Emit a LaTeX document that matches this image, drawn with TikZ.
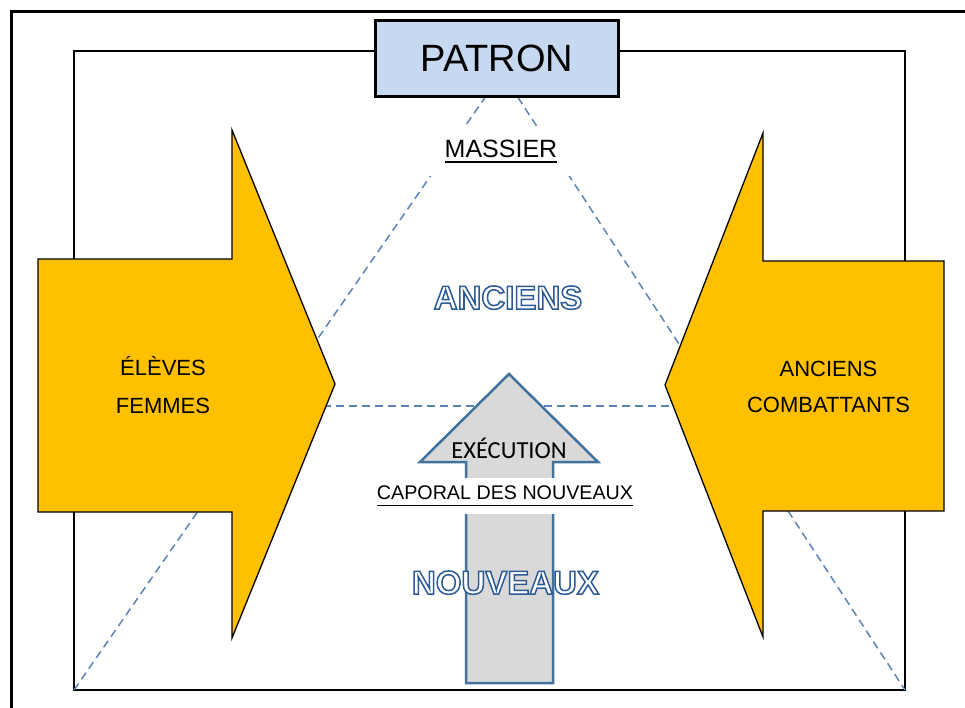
\documentclass[tikz,border=0pt]{standalone}
\usepackage{fontspec}
\setmainfont{Liberation Sans}
\newfontfamily\carlito{Carlito}
\usetikzlibrary{calc}
\definecolor{gold}{HTML}{FFC000}
\definecolor{patronblue}{HTML}{C6D9F1}
\definecolor{dashblue}{HTML}{5A84B8}
\definecolor{arrowgray}{HTML}{D9D9D9}
\definecolor{arrowblue}{HTML}{41719C}
\definecolor{outlineblue}{HTML}{2C5A96}
\newcommand\myul[3]{\setbox0\hbox{#3}\rlap{\rule[-#1]{\wd0}{#2}}\box0}
\newcommand\outlinetext[1]{\special{pdf:literal direct 2 Tr 1.5 w 0.173 0.353 0.588 RG 1 1 1 rg}#1\special{pdf:literal direct 0 Tr}}
\begin{document}
\begin{tikzpicture}[x=1pt,y=-1pt,
  dashline/.style={draw=dashblue, line width=1.5pt, dash pattern=on 8pt off 5pt},
  goldarrow/.style={fill=gold, draw=black, line width=1.3pt, line join=miter},
  grayarrow/.style={fill=arrowgray, draw=arrowblue, line width=2.5pt, line join=miter},
  txt/.style={inner sep=0pt, anchor=base},
  otext/.style={inner sep=0pt, anchor=base, font=\bfseries\fontsize{33}{36}\selectfont}]
\useasboundingbox (0,0) rectangle (965,707);
\clip (0,0) rectangle (965,707);
% frames
\draw[line width=3pt] (11,11) rectangle (1010,760);
\draw[line width=1.6pt] (74,51) rectangle (905,690);
% dashed triangle
\coordinate (apex) at (502,73);
\coordinate (bl) at (74,690);
\coordinate (br) at (905,690);
\draw[dashline] (bl) -- (apex) -- (br);
\coordinate (hl) at ($(apex)!0.5397!(bl)$);
\coordinate (hr) at ($(apex)!0.5397!(br)$);
\draw[dashline] (hl) -- (hr);
% gold arrows
\draw[goldarrow] (38,259) -- (232,259) -- (232,130) -- (335,384) -- (232,638) -- (232,512) -- (38,512) -- cycle;
\draw[goldarrow] (944,261) -- (763,261) -- (763,133) -- (665,385) -- (763,637) -- (763,511) -- (944,511) -- cycle;
% gray up arrow
\draw[grayarrow] (466,683) -- (466,462) -- (420,462) -- (509,374) -- (598,462) -- (553,462) -- (553,683) -- cycle;
% PATRON
\node[draw=black, line width=3pt, fill=patronblue, minimum width=243pt, minimum height=76pt, inner sep=0pt,
      font=\fontsize{38}{40}\selectfont] (patron) at (497,58.5) {PATRON};
% MASSIER
\node[fill=white, minimum width=155pt, minimum height=49pt, inner sep=0pt,
      font=\fontsize{25}{30}\selectfont] (massier) at (501,151.5) {\myul{5pt}{1.5pt}{MASSIER}};
% EXECUTION
\node[txt, font=\carlito\fontsize{24.5}{28}\selectfont] (exec) at (509,458) {EXÉCUTION};
% CAPORAL
\node[fill=white, minimum height=36pt, inner xsep=4pt, inner ysep=0pt,
      font=\fontsize{19.7}{24}\selectfont] (caporal) at (505,496) {\myul{6pt}{1.3pt}{CAPORAL DES NOUVEAUX}};
% side texts
\node[txt, font=\fontsize{22}{26}\selectfont] (el1) at (163,375) {ÉLÈVES};
\node[txt, font=\fontsize{22}{26}\selectfont] (el2) at (163,413) {FEMMES};
\node[txt, font=\fontsize{22}{26}\selectfont] (ac1) at (828.5,376) {ANCIENS};
\node[txt, font=\fontsize{22}{26}\selectfont] (ac2) at (828.5,412) {COMBATTANTS};
% outlined texts
\node[otext] (anciens) at (508,309) {\outlinetext{ANCIENS}};
\node[otext] (nouveaux) at (505.5,594) {\outlinetext{NOUVEAUX}};
\end{tikzpicture}
\end{document}
